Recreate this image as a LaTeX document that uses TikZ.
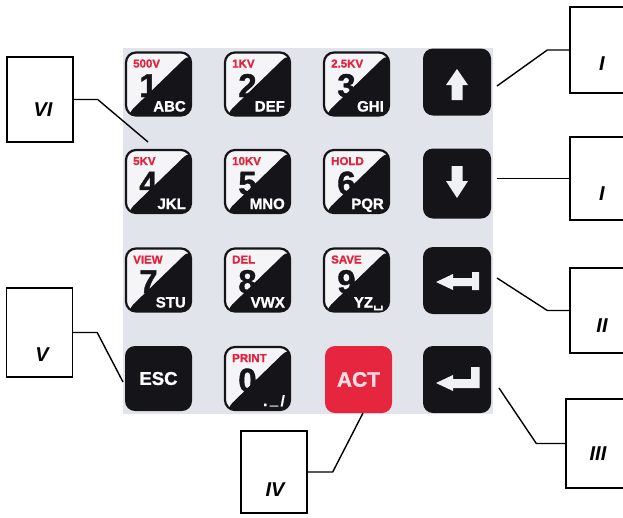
\documentclass[tikz,border=0pt]{standalone}
\usepackage{fontspec}
\setmainfont{Liberation Sans}
\newfontfamily\dejavu{DejaVu Sans}
\newfontfamily\heavy[FakeBold=1.2]{Liberation Sans Bold}
\definecolor{bgpanel}{HTML}{E2E4EB}
\definecolor{keyblack}{HTML}{151519}
\definecolor{keywhite}{HTML}{F5F5F7}
\definecolor{arrowwhite}{HTML}{F0F1F5}
\definecolor{redtxt}{HTML}{E2233D}
\definecolor{actred}{HTML}{E6253F}
\definecolor{acttxt}{HTML}{F8DDE3}
\newcommand{\padkey}[6]{%
  \node[numkey] (#1) at (#2,#3) {};
  \node[redlab] (#1r) at ({#2-25.5},{#3-16.5}) {#4};
  \node[digit] (#1d) at ({#2-10},{#3+13}) {#5};
  \node[letters] (#1l) at ({#2+27.5},{#3+27.5}) {#6};
}
\begin{document}
\begin{tikzpicture}[x=1pt,y=-1pt,
  numkey/.style={draw=keyblack, line width=2.2pt, rounded corners=10pt, fill=keywhite,
    minimum width=65pt, minimum height=63pt, inner sep=0pt,
    path picture={\fill[keyblack] (path picture bounding box.south west) --
      (path picture bounding box.south east) -- (path picture bounding box.north east) -- cycle;}},
  blackkey/.style={fill=keyblack, rounded corners=10pt, minimum width=68pt, minimum height=67pt,
    inner sep=0pt, text=white, font=\heavy\fontsize{18.5}{18.5}\selectfont},
  actkey/.style={blackkey, fill=actred, text=acttxt, font=\heavy\fontsize{21}{21}\selectfont},
  redlab/.style={anchor=base west, text=redtxt, font=\heavy\fontsize{11.5}{11.5}\selectfont, inner sep=0pt},
  digit/.style={anchor=base, text=keyblack, font=\heavy\fontsize{33}{33}\selectfont, inner sep=0pt},
  letters/.style={anchor=base east, text=white, font=\heavy\fontsize{15}{15}\selectfont, inner sep=0pt},
  lbox/.style={draw=black, line width=1.4pt, minimum width=66pt, inner sep=0pt, fill=white},
  ltxt/.style={font=\bfseries\itshape\fontsize{20}{20}\selectfont, inner sep=0pt},
  lead/.style={line width=1.4pt, draw=black},
  arrowfill/.style={fill=arrowwhite}
]
\useasboundingbox (0,0) rectangle (623,517);
\fill[white] (0,0) rectangle (623,517);
% panel
\fill[bgpanel] (123,48) rectangle (493,414);

% number keys
\padkey{k1}{158.5}{84}{500V}{1}{ABC}
\padkey{k2}{257.5}{84}{1KV}{2}{DEF}
\padkey{k3}{356.5}{84}{2.5KV}{3}{GHI}
\padkey{k4}{158.5}{181.5}{5KV}{4}{JKL}
\padkey{k5}{257.5}{181.5}{10KV}{5}{MNO}
\padkey{k6}{356.5}{181.5}{HOLD}{6}{PQR}
\padkey{k7}{158.5}{280}{VIEW}{7}{STU}
\padkey{k8}{257.5}{280}{DEL}{8}{VWX}
\padkey{k9}{356.5}{280}{SAVE}{9}{YZ{\dejavu\bfseries ␣}}
\padkey{k0}{257.5}{378.5}{PRINT}{0}{.\,\raisebox{1.5pt}{\_}\,/}

% function keys
\node[blackkey, minimum width=67pt, minimum height=65pt] (kEsc) at (158.5,378.5) {ESC};
\node[actkey, minimum width=67pt] (kAct) at (358.5,379.5) {ACT};
\node[blackkey] (kUp) at (457,82) {};
\node[blackkey, minimum height=70pt] (kDown) at (457,183.5) {};
\node[blackkey] (kBack) at (457,280.5) {};
\node[blackkey] (kEnter) at (457,379.5) {};

% arrow glyphs
\fill[arrowfill] (457,69) -- (468,85) -- (462.5,85) -- (462.5,100) -- (451.5,100) -- (451.5,85) -- (446,85) -- cycle;
\fill[arrowfill] (451.5,166) -- (462.5,166) -- (462.5,181) -- (468,181) -- (457,198) -- (446,181) -- (451.5,181) -- cycle;
\fill[arrowfill] (436,282) -- (453,274) -- (453,278) -- (472,278) -- (472,272) -- (479,272) -- (479,290) -- (472,290) -- (472,286) -- (453,286) -- (453,290) -- cycle;
\fill[arrowfill] (436,383) -- (453,375) -- (453,379) -- (471,379) -- (471,367) -- (479.5,367) -- (479.5,388) -- (453,388) -- (453,391) -- cycle;

% label boxes
\node[lbox, minimum height=85pt] (bVI) at (40,99.5) {};
\node[ltxt] (tVI) at (43,110) {VI};
\node[lbox, minimum height=89pt] (bV) at (39.5,332.5) {};
\node[ltxt] (tV) at (42,355) {V};
\node[lbox, minimum height=82pt] (bIV) at (274,472) {};
\node[ltxt] (tIV) at (275,490) {IV};
\node[lbox, minimum height=86pt] (bIa) at (603,50) {};
\node[ltxt] (tIa) at (602,64) {I};
\node[lbox, minimum height=83pt] (bIb) at (603,178.5) {};
\node[ltxt] (tIb) at (602,194) {I};
\node[lbox, minimum height=85pt] (bII) at (603,310.5) {};
\node[ltxt] (tII) at (602,326) {II};
\node[lbox, minimum height=89pt] (bIII) at (599,443.5) {};
\node[ltxt] (tIII) at (598,454) {III};

% leader end points
\coordinate (cVI) at (148,142);
\coordinate (cV) at (123,382);
\coordinate (cIV) at (363,413);
\coordinate (cIa) at (497,86);
\coordinate (cIb) at (497,178.5);
\coordinate (cII) at (497,278);
\coordinate (cIII) at (499,388);

\draw[lead] (bVI.east) -- ++(24,0) -- (cVI);
\draw[lead] (bV.east) -- ++(24,0) -- (cV);
\draw[lead] (bIV.east) -- ++(25,0) -- (cIV);
\draw[lead] (bIa.west) -- ++(-22,0) -- (cIa);
\draw[lead] (bIb.west) -- (cIb);
\draw[lead] (bII.west) -- ++(-22,0) -- (cII);
\draw[lead] (bIII.west) -- ++(-29,0) -- (cIII);
\end{tikzpicture}
\end{document}
